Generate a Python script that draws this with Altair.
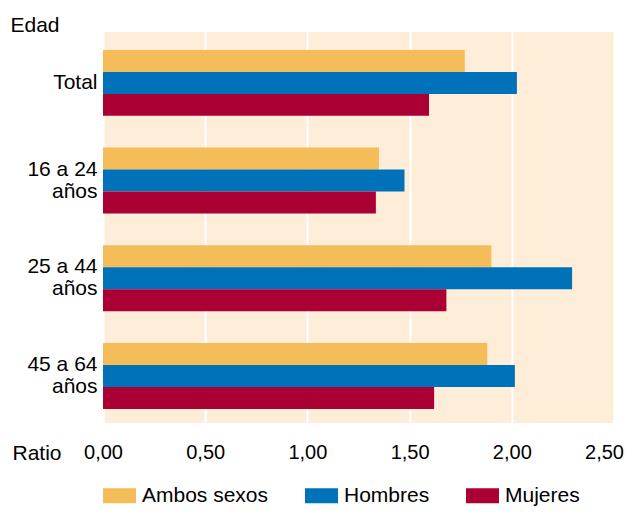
import altair as alt
import pandas as pd

grupos = ["Total", "16 a 24|años", "25 a 44|años", "45 a 64|años"]
series = ["Ambos sexos", "Hombres", "Mujeres"]
ambos = [1.77, 1.35, 1.90, 1.88]
hombres = [2.025, 1.475, 2.295, 2.015]
mujeres = [1.595, 1.335, 1.68, 1.62]
colores = ["#F5BC5A", "#0072BA", "#AB0033"]
ticks = [0, 0.5, 1.0, 1.5, 2.0, 2.5]

rows = []
for i, g in enumerate(grupos):
    for s, vals in zip(series, [ambos, hombres, mujeres]):
        rows.append({"Edad": g, "Serie": s, "Ratio": vals[i]})
df = pd.DataFrame(rows)

FONT = "Liberation Sans"

chart = alt.Chart(df).mark_bar().encode(
    y=alt.Y("Edad:N", sort=grupos,
            scale=alt.Scale(paddingInner=0.325, paddingOuter=0.164, align=0.56),
            axis=alt.Axis(title="Edad", titleAngle=0, titleX=-93, titleY=-1,
                          titleAlign="left", titleBaseline="alphabetic",
                          titleFontWeight="normal", titleFontSize=21, titleFont=FONT,
                          titleColor="#000",
                          labelExpr="split(datum.label, '|')",
                          labelOffset=alt.ExprRef("datum.value == 'Total' ? 0 : -11"),
                          labelFontSize=21, labelFont=FONT, labelColor="#000",
                          labelLineHeight=22, labelPadding=6,
                          ticks=False, domain=False)),
    yOffset=alt.YOffset("Serie:N", sort=series,
                        scale=alt.Scale(paddingInner=0, paddingOuter=0)),
    x=alt.X("Ratio:Q", scale=alt.Scale(domain=[0, 2.5], nice=False),
            axis=alt.Axis(values=ticks, format=".2f",
                          labelExpr="replace(datum.label, '.', ',')",
                          labelOffset=alt.ExprRef("datum.value == 2.5 ? -10 : 0"),
                          title="Ratio", titleX=-91, titleY=36,
                          titleAlign="left", titleBaseline="alphabetic",
                          titleFontWeight="normal", titleFontSize=21, titleFont=FONT,
                          titleColor="#000",
                          labelFontSize=20, labelFont=FONT, labelColor="#000",
                          labelPadding=19, ticks=False, domain=False,
                          grid=True, gridColor="white", gridWidth=2,
                          labelFlush=False)),
    color=alt.Color("Serie:N", sort=series,
                    scale=alt.Scale(domain=series, range=colores),
                    legend=alt.Legend(title=None, orient="none", direction="horizontal",
                                      legendX=0, legendY=447,
                                      symbolType="M-1,-0.45H1V0.45H-1Z",
                                      symbolSize=1089, symbolStrokeWidth=0,
                                      symbolOpacity=1,
                                      labelFontSize=21, labelFont=FONT, labelColor="#000",
                                      labelOffset=6, columnPadding=36,
                                      padding=0)),
).properties(
    width=511, height=391,
    autosize=alt.AutoSizeParams(type="none"),
    padding={"left": 95, "top": 24, "right": 10, "bottom": 84}
).configure_view(
    fill="#FDEDD9", stroke=None
)

chart.save("out.html", embed_options={"renderer": "svg", "actions": False})
